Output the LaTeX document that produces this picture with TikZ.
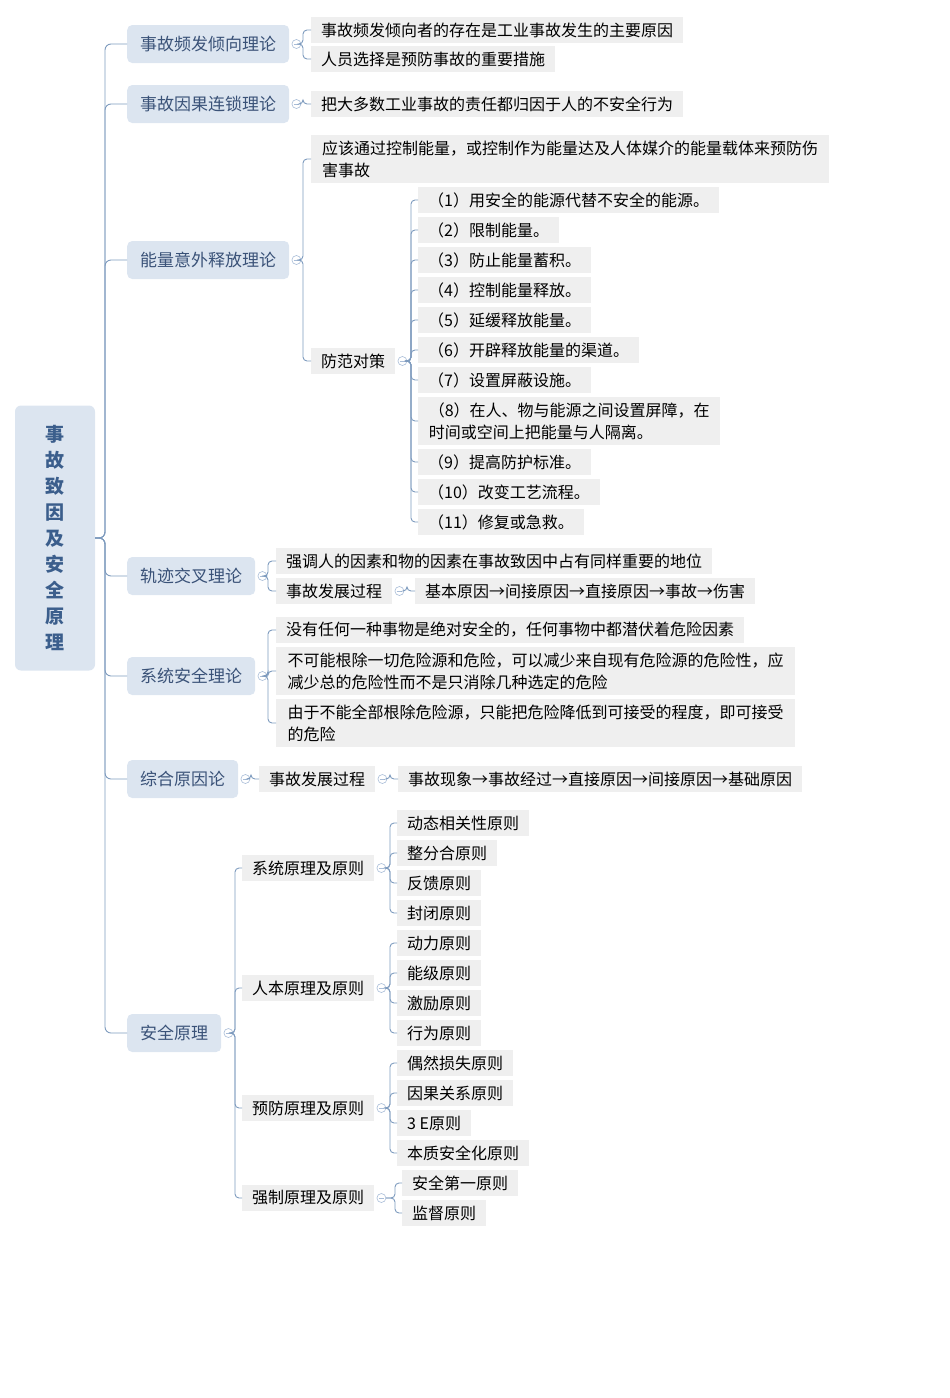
\documentclass[tikz,border=0pt]{standalone}
\usepackage{fontspec}
\setmainfont{Noto Sans CJK SC}
\begin{document}
\begin{tikzpicture}[x=1pt,y=1pt,
  leaf/.style={fill=leafg,inner xsep=10pt,inner ysep=0pt,minimum height=26pt,anchor=west,font=\fontsize{16}{22}\selectfont,text=black},
  lone/.style={leaf,fill=l1fill,rounded corners=5pt,minimum height=38pt,inner xsep=13pt,font=\fontsize{17}{22}\selectfont,text=l1text},
  foldc/.style={circle,draw=foldb,fill=white,inner sep=0pt,minimum size=9pt,line width=0.6pt,
    path picture={\draw[foldb,line width=0.6pt] ([xshift=-2.5pt]path picture bounding box.center) -- ([xshift=2.5pt]path picture bounding box.center);}},
  conn/.style={draw=linec,line width=0.9pt,rounded corners=4pt}]
\definecolor{leafg}{HTML}{EFEFEF}
\definecolor{l1fill}{HTML}{DCE5F0}
\definecolor{l1text}{HTML}{3A5278}
\definecolor{linec}{HTML}{7E9BBE}
\definecolor{foldb}{HTML}{A9BDD8}
\definecolor{roottext}{HTML}{3B5E8C}
\useasboundingbox (0,0) rectangle (950,-1398);
\newcommand\lf[4]{\node[leaf] (#1) at (#2,-#3) {#4};}
\newcommand\lo[4]{\node[lone] (#1) at (#2,-#3) {#4};}
\newcommand\fd[1]{\node[foldc] (#1f) at ([xshift=7pt]#1.east) {};}
\newcommand\br[3]{\draw[conn] (#1f.east) -| ([xshift=-#3pt]#2.west) -- (#2.west);}
% root
\node[fill=l1fill,rounded corners=6pt,minimum width=80pt,minimum height=265pt,text width=20pt,align=center,
  font=\fontsize{19}{26}\selectfont\bfseries,text=roottext] (root) at (55,-538) {事\\故\\致\\因\\及\\安\\全\\原\\理};
% level 1
\lo{a}{127}{44}{事故频发倾向理论}
\lo{b}{127}{104}{事故因果连锁理论}
\lo{c}{127}{260}{能量意外释放理论}
\lo{d}{127}{576}{轨迹交叉理论}
\lo{e}{127}{676}{系统安全理论}
\lo{f}{127}{779}{综合原因论}
\lo{g}{127}{1033}{安全原理}
\foreach \n in {a,b,c,d,e,f,g}{\draw[conn,rounded corners=6pt] (root.east) -| ([xshift=-22pt]\n.west) -- (\n.west);}
\foreach \n in {a,b,c,d,e,f,g}{\fd{\n}}
% group a
\lf{a1}{311}{30}{事故频发倾向者的存在是工业事故发生的主要原因}
\lf{a2}{311}{59}{人员选择是预防事故的重要措施}
\br{a}{a1}{8}\br{a}{a2}{8}
% group b
\lf{b1}{311}{104}{把大多数工业事故的责任都归因于人的不安全行为}
\br{b}{b1}{8}
% group c
\node[leaf,align=left,minimum height=48pt,minimum width=518pt] (c1) at (311,-159) {应该通过控制能量，或控制作为能量达及人体媒介的能量载体来预防伤\\害事故};
\lf{c2}{311}{361}{防范对策}
\br{c}{c1}{8}\br{c}{c2}{8}
\fd{c2}
\lf{p1}{418}{200}{（1）用安全的能源代替不安全的能源。}
\lf{p2}{418}{230}{（2）限制能量。}
\lf{p3}{418}{260}{（3）防止能量蓄积。}
\lf{p4}{418}{290}{（4）控制能量释放。}
\lf{p5}{418}{320}{（5）延缓释放能量。}
\lf{p6}{418}{350}{（6）开辟释放能量的渠道。}
\lf{p7}{418}{380}{（7）设置屏蔽设施。}
\node[leaf,align=left,minimum height=48pt,minimum width=302pt] (p8) at (418,-421) {（8）在人、物与能源之间设置屏障，在\\时间或空间上把能量与人隔离。};
\lf{p9}{418}{462}{（9）提高防护标准。}
\lf{p10}{418}{492}{（10）改变工艺流程。}
\lf{p11}{418}{522}{（11）修复或急救。}
\foreach \n in {1,...,11}{\br{c2}{p\n}{7}}
% group d
\lf{d1}{276}{561}{强调人的因素和物的因素在事故致因中占有同样重要的地位}
\lf{d2}{276}{591}{事故发展过程}
\br{d}{d1}{8}\br{d}{d2}{8}
\fd{d2}
\lf{d3}{415}{591}{基本原因→间接原因→直接原因→事故→伤害}
\br{d2}{d3}{8}
% group e
\lf{e1}{276}{630}{没有任何一种事物是绝对安全的，任何事物中都潜伏着危险因素}
\node[leaf,align=left,minimum height=48pt,minimum width=519pt] (e2) at (276,-671) {不可能根除一切危险源和危险，可以减少来自现有危险源的危险性，应\\减少总的危险性而不是只消除几种选定的危险};
\node[leaf,align=left,minimum height=48pt,minimum width=519pt] (e3) at (276,-723) {由于不能全部根除危险源，只能把危险降低到可接受的程度，即可接受\\的危险};
\br{e}{e1}{8}\br{e}{e2}{8}\br{e}{e3}{8}
% group f
\lf{f1}{259}{779}{事故发展过程}
\br{f}{f1}{8}
\fd{f1}
\lf{f2}{398}{779}{事故现象→事故经过→直接原因→间接原因→基础原因}
\br{f1}{f2}{8}
% group g
\lf{g1}{242}{868}{系统原理及原则}
\lf{g2}{242}{988}{人本原理及原则}
\lf{g3}{242}{1108}{预防原理及原则}
\lf{g4}{242}{1198}{强制原理及原则}
\foreach \n in {1,...,4}{\br{g}{g\n}{7}\fd{g\n}}
\lf{s1}{397}{823}{动态相关性原则}
\lf{s2}{397}{853}{整分合原则}
\lf{s3}{397}{883}{反馈原则}
\lf{s4}{397}{913}{封闭原则}
\foreach \n in {1,...,4}{\br{g1}{s\n}{7}}
\lf{h1}{397}{943}{动力原则}
\lf{h2}{397}{973}{能级原则}
\lf{h3}{397}{1003}{激励原则}
\lf{h4}{397}{1033}{行为原则}
\foreach \n in {1,...,4}{\br{g2}{h\n}{7}}
\lf{y1}{397}{1063}{偶然损失原则}
\lf{y2}{397}{1093}{因果关系原则}
\lf{y3}{397}{1123}{3 E原则}
\lf{y4}{397}{1153}{本质安全化原则}
\foreach \n in {1,...,4}{\br{g3}{y\n}{7}}
\lf{q1}{402}{1183}{安全第一原则}
\lf{q2}{402}{1213}{监督原则}
\foreach \n in {1,2}{\br{g4}{q\n}{7}}
\end{tikzpicture}
\end{document}
